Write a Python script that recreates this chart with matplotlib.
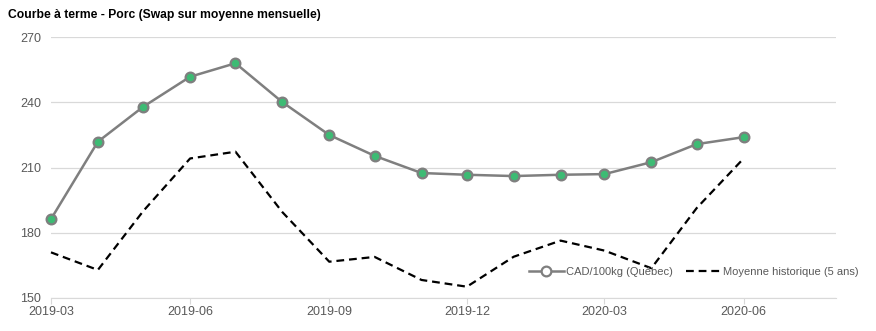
import numpy as np
import matplotlib.pyplot as plt

plt.rcParams['font.family'] = ['Liberation Sans', 'DejaVu Sans']

months = ['2019-03', '2019-04', '2019-05', '2019-06', '2019-07', '2019-08',
          '2019-09', '2019-10', '2019-11', '2019-12', '2020-01', '2020-02',
          '2020-03', '2020-04', '2020-05', '2020-06']
cad_quebec = [186.3, 221.9, 238.0, 251.8, 258.0, 240.1, 225.0, 215.4,
              207.5, 206.7, 206.1, 206.7, 207.0, 212.5, 220.8, 224.0]
moyenne_hist = [171.0, 162.9, 190.0, 214.2, 217.3, 189.5, 166.7, 168.9,
                158.3, 155.2, 169.0, 176.4, 171.8, 163.7, 191.4, 214.2]
tick_labels = ['2019-03', '2019-06', '2019-09', '2019-12', '2020-03', '2020-06']
y_ticks = [150, 180, 210, 240, 270]

dates = np.array([np.datetime64(m + '-01') for m in months])
tick_dates = np.array([np.datetime64(t + '-01') for t in tick_labels])

fig = plt.figure(figsize=(8.76, 3.31), dpi=100)
ax = fig.add_axes([0.0582, 0.0997, 0.896, 0.788])

ax.plot(dates, cad_quebec, color='#7f7f7f', linewidth=1.8, marker='o',
        markersize=7, markerfacecolor='#3dbb74', markeredgecolor='#7f7f7f',
        markeredgewidth=1.6, label='CAD/100kg (Québec)', zorder=3, clip_on=False)
ax.plot(dates, moyenne_hist, color='black', linewidth=1.6, linestyle=(0, (3.5, 2.2)),
        label='Moyenne historique (5 ans)', zorder=2, clip_on=False)

ax.set_xlim(np.datetime64('2019-03-01'), np.datetime64('2020-08-01'))
ax.set_ylim(150, 270)
ax.set_yticks(y_ticks)
ax.set_xticks(tick_dates)
ax.set_xticklabels(tick_labels)

ax.grid(axis='y', color='#d9d9d9', linewidth=0.9)
ax.set_axisbelow(True)
for side in ['top', 'right', 'left']:
    ax.spines[side].set_visible(False)
ax.spines['bottom'].set_color('#d9d9d9')
ax.tick_params(axis='y', length=0, colors='#595959', labelsize=9, pad=7)
ax.tick_params(axis='x', length=4, color='#d9d9d9', colors='#595959', labelsize=9, pad=2)

# legend: hollow marker in the legend like the original
leg = ax.legend(loc='center', bbox_to_anchor=(0.792, 0.178), bbox_transform=fig.transFigure,
                ncol=2, frameon=False, fontsize=8, handlelength=3.15,
                columnspacing=1.2, handletextpad=0.2, labelcolor='#595959')
leg.legend_handles[0].set_markerfacecolor('white')

fig.text(0.009, 0.955, 'Courbe à terme - Porc (Swap sur moyenne mensuelle)',
         fontsize=8.7, fontweight='bold', va='center', ha='left')

fig.savefig('out.png', dpi=100)
